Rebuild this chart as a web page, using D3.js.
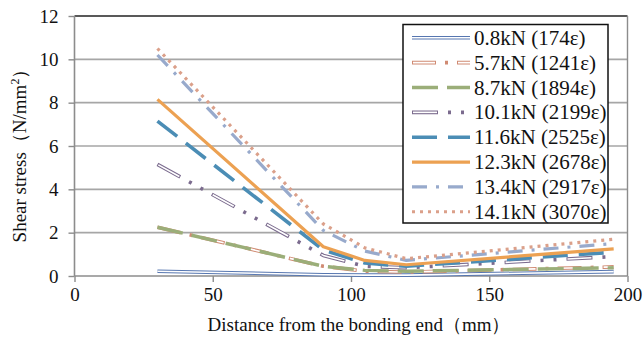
<!DOCTYPE html>
<html>
<head>
<meta charset="utf-8">
<script src="https://cdn.jsdelivr.net/npm/d3@7"></script>
<style>
  body { margin: 0; background: #fff; }
  svg { display: block; font-family: "Liberation Serif", "Times New Roman", serif; }
</style>
</head>
<body>
<svg width="643" height="342"></svg>
<script>
// distances of the gauges (mm)
const positions = [30, 90, 105, 120, 195];

const seriesNames = ["0.8kN (174ε)", "5.7kN (1241ε)", "8.7kN (1894ε)", "10.1kN (2199ε)",
  "11.6kN (2525ε)", "12.3kN (2678ε)", "13.4kN (2917ε)", "14.1kN (3070ε)"];

const s08 = [0.22, 0.06, 0.04, 0.04, 0.2];
const s57 = [2.25, 0.45, 0.22, 0.18, 0.42];
const s87 = [2.25, 0.45, 0.26, 0.22, 0.38];
const s101 = [5.15, 0.95, 0.45, 0.38, 0.9];
const s116 = [7.15, 1.2, 0.6, 0.45, 1.1];
const s123 = [8.15, 1.35, 0.72, 0.52, 1.25];
const s134 = [10.2, 2.1, 1.15, 0.72, 1.5];
const s141 = [10.5, 2.4, 1.3, 0.8, 1.7];
const seriesValues = [s08, s57, s87, s101, s116, s123, s134, s141];

const xTicks = [0, 50, 100, 150, 200];
const yTicks = [0, 2, 4, 6, 8, 10, 12];

// line styles, one per series
const styles = [
  { color: "#5676b0", w: 3.6, dash: null, double: true },
  { color: "#d08a72", w: 3.6, dash: [24, 9, 3, 9], inner: [22, 23], double: true },
  { color: "#9bae79", w: 3.4, dash: [26, 9] },
  { color: "#7b6b8e", w: 3.6, dash: [26, 10, 3, 10, 3, 10], inner: [24, 38], double: true },
  { color: "#4b8db5", w: 3.6, dash: [25, 11] },
  { color: "#eca152", w: 3.2, dash: null },
  { color: "#98aacc", w: 3.2, dash: [15, 9, 3, 9] },
  { color: "#dba08a", w: 3.2, dash: [3, 5] }
];

const svg = d3.select("svg");
const margin = { top: 16, right: 15.5, bottom: 66, left: 74.5 };
const width = +svg.attr("width");
const height = +svg.attr("height");

const xScale = d3.scaleLinear().domain([0, 200]).range([margin.left, width - margin.right]);
const yScale = d3.scaleLinear().domain([0, 12]).range([height - margin.bottom, margin.top]);

// gridlines
svg.append("g")
  .selectAll("line").data(yTicks.filter(d => d > 0 && d < 12)).enter()
  .append("line")
  .attr("x1", xScale(0)).attr("x2", xScale(200))
  .attr("y1", d => yScale(d)).attr("y2", d => yScale(d))
  .attr("stroke", "#a6a6a6").attr("stroke-width", 1.6);

// plot border (top + right)
svg.append("line")
  .attr("x1", xScale(0)).attr("x2", xScale(200))
  .attr("y1", yScale(12)).attr("y2", yScale(12))
  .attr("stroke", "#222").attr("stroke-width", 1.6);
svg.append("line")
  .attr("x1", xScale(200)).attr("x2", xScale(200))
  .attr("y1", yScale(12)).attr("y2", yScale(0))
  .attr("stroke", "#8c8c8c").attr("stroke-width", 1.4);

// axes
const xAxis = d3.axisBottom(xScale).tickValues(xTicks).tickSize(6).tickPadding(6);
const yAxis = d3.axisLeft(yScale).tickValues(yTicks).tickSize(6).tickPadding(10);

const gx = svg.append("g")
  .attr("transform", "translate(0," + yScale(0) + ")")
  .call(xAxis);
const gy = svg.append("g")
  .attr("transform", "translate(" + xScale(0) + ",0)")
  .call(yAxis);

[gx, gy].forEach(g => {
  g.select(".domain").attr("stroke", "#8c8c8c").attr("stroke-width", 1.6);
  g.selectAll(".tick line").attr("stroke", "#8c8c8c").attr("stroke-width", 1.4);
  g.selectAll(".tick text")
    .attr("fill", "#111")
    .style("font-family", "Liberation Serif")
    .style("font-size", "19px");
});
gx.select(".domain").attr("d", "M" + xScale(0) + ",0H" + xScale(200));
gy.select(".domain").attr("d", "M0," + yScale(0) + "V" + yScale(12));

// axis titles
svg.append("text")
  .attr("x", 359).attr("y", 331)
  .attr("text-anchor", "middle")
  .style("font-size", "19px")
  .attr("fill", "#111")
  .text("Distance from the bonding end（mm）");

const yTitle = svg.append("text")
  .attr("transform", "translate(26,151) rotate(-90)")
  .attr("text-anchor", "middle")
  .style("font-size", "19px")
  .attr("fill", "#111");
yTitle.append("tspan").text("Shear stress（N/mm");
yTitle.append("tspan").attr("dy", -7).style("font-size", "12px").text("2");
yTitle.append("tspan").attr("dy", 7).text("）");

// draws a path with the style (double lines get a white core)
function drawStyled(g, d, st) {
  g.append("path")
    .attr("d", d)
    .attr("fill", "none")
    .attr("stroke", st.color)
    .attr("stroke-width", st.w)
    .attr("stroke-linejoin", "round")
    .attr("stroke-dasharray", st.dash ? st.dash.join(",") : null);
  if (st.double) {
    g.append("path")
      .attr("d", d)
      .attr("fill", "none")
      .attr("stroke", "#fff")
      .attr("stroke-width", st.w - 2)
      .attr("stroke-linejoin", "round")
      .attr("stroke-dasharray", st.inner ? st.inner.join(",") : null)
      .attr("stroke-dashoffset", st.inner ? -1 : null);
  }
}

const line = d3.line()
  .x((d, i) => xScale(positions[i]))
  .y(d => yScale(d));

const series = svg.append("g");
seriesValues.forEach((vals, i) => {
  drawStyled(series.append("g"), line(vals), styles[i]);
});

// legend
const legend = svg.append("g").attr("transform", "translate(403,24.5)");
legend.append("rect")
  .attr("width", 205).attr("height", 198.5)
  .attr("fill", "#fff")
  .attr("stroke", "#111").attr("stroke-width", 1.5);

const rowH = 24.85;
seriesNames.forEach((name, i) => {
  const yy = 13.3 + i * rowH;
  const row = legend.append("g");
  drawStyled(row, "M9," + yy + "H67", styles[i]);
  row.append("text")
    .attr("x", 71).attr("y", yy + 7)
    .style("font-size", "21px")
    .attr("fill", "#111")
    .text(name);
});
</script>
</body>
</html>
